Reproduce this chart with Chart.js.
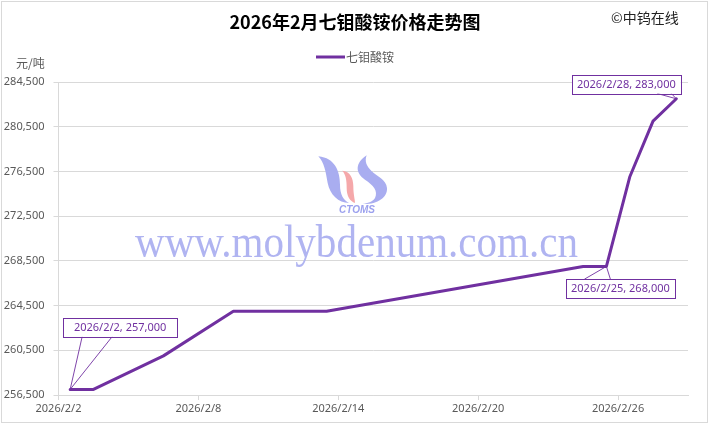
<!DOCTYPE html>
<html><head><meta charset="utf-8">
<script src="https://cdn.jsdelivr.net/npm/chart.js@4.4.1/dist/chart.umd.min.js"></script>
<style>html,body{margin:0;padding:0;background:#fff;}canvas{display:block;}</style>
</head><body>
<canvas id="c" width="710" height="425"></canvas>
<script>
// ---- data ----
const dates = ['2026/2/2','2026/2/3','2026/2/6','2026/2/9','2026/2/13','2026/2/24','2026/2/25','2026/2/26','2026/2/27','2026/2/28'];
const prices = [257000,257000,260000,264000,264000,268000,268000,276000,281000,283000];
const xTickLabels = ['2026/2/2','2026/2/8','2026/2/14','2026/2/20','2026/2/26'];
const yTickValues = [256500,260500,264500,268500,272500,276500,280500,284500];
const seriesName = '七钼酸铵';
const titleText = '2026年2月七钼酸铵价格走势图';
const sourceText = '©中钨在线';
const unitText = '元/吨';
const labelledDates = ['2026/2/2','2026/2/25','2026/2/28'];

const startDate = '2026/2/2';
const endDate = '2026/3/1';
function dayNum(s){const p=s.split('/').map(Number);return Date.UTC(p[0],p[1]-1,p[2])/86400000;}
const d0 = dayNum(startDate);
function slotCenter(s){return dayNum(s)-d0+0.5;}
function fmt(v){return v.toLocaleString('en-US');}

const PURPLE = '#7030A0';
const GRID = '#d9d9d9';
const TXT = '#595959';

const decor = {
  id:'decor',
  beforeDraw(chart){
    const ctx=chart.ctx;
    ctx.save();
    ctx.fillStyle='#fff';ctx.fillRect(0,0,710,425);
    ctx.strokeStyle='#d9d9d9';ctx.lineWidth=1;
    ctx.strokeRect(1.5,1.5,706,421);
    ctx.restore();
  },
  beforeDatasetsDraw(chart){
    const ctx=chart.ctx;
    ctx.save();
    // logo
    const T=(x,y)=>[x/3+305,y/3+148];
    function path(cmds,color){
      ctx.beginPath();
      cmds.forEach(c=>{
        if(c[0]==='M'){const p=T(c[1],c[2]);ctx.moveTo(p[0],p[1]);}
        else{const a=T(c[1],c[2]),b=T(c[3],c[4]),d=T(c[5],c[6]);ctx.bezierCurveTo(a[0],a[1],b[0],b[1],d[0],d[1]);}
      });
      ctx.closePath();ctx.fillStyle=color;ctx.fill();
    }
    path([['M',40,25],['C',90,30,105,70,105,110],['C',105,140,115,155,132,165],['C',100,165,75,140,68,105],['C',62,70,58,45,40,25]],'#a9adf0');
    path([['M',112,68],['C',135,70,145,90,145,115],['C',145,140,150,155,150,165],['C',135,160,125,145,125,120],['C',125,95,122,80,112,68]],'#f5a8aa');
    path([['M',185,22],['C',150,45,150,75,180,95],['C',205,112,220,128,210,150],['C',202,162,188,166,172,168],['C',215,170,248,150,246,120],['C',244,95,215,85,200,70],['C',185,55,178,40,185,22]],'#a9adf0');
    ctx.font='italic bold 10px "Liberation Sans"';
    ctx.fillStyle='#9ca1ee';ctx.textAlign='center';ctx.textBaseline='middle';
    ctx.fillText('CTOMS',357,210);
    // watermark text
    ctx.font='46px "Liberation Serif"';
    const wt='www.molybdenum.com.cn';
    const w=ctx.measureText(wt).width;
    ctx.translate(135,257);ctx.scale(443/w,1);
    ctx.textAlign='left';ctx.textBaseline='alphabetic';
    ctx.fillStyle='#b0b4f1';
    ctx.fillText(wt,0,0);
    ctx.restore();
  },
  afterDraw(chart){
    const ctx=chart.ctx;
    ctx.save();
    ctx.textBaseline='middle';
    // title
    ctx.font='bold 18px "Noto Sans CJK SC"';ctx.fillStyle='#000';ctx.textAlign='center';
    ctx.fillText(titleText,355,22);
    ctx.font='14px "Noto Sans CJK SC"';ctx.fillStyle='#222';ctx.textAlign='left';
    ctx.fillText(sourceText,611,18);
    // legend
    ctx.strokeStyle=PURPLE;ctx.lineWidth=3;
    ctx.beginPath();ctx.moveTo(316,57);ctx.lineTo(345,57);ctx.stroke();
    ctx.font='12px "Noto Sans CJK SC"';ctx.fillStyle=TXT;
    ctx.fillText(seriesName,346,57);
    // unit
    ctx.fillText(unitText,16,63);
    // data labels
    const xs=chart.scales.x, ys=chart.scales.y;
    const cfg={'2026/2/2':{dx:50,dy:-62,l1:-38,l2:-8,top:false,pad:11},
               '2026/2/25':{dx:14,dy:22,l1:-36,l2:-10,top:true,pad:5},
               '2026/2/28':{dx:-50,dy:-14.5,l1:31,l2:45,top:false,pad:5}};
    ctx.font='11px "Noto Sans"';
    labelledDates.forEach(d=>{
      const i=dates.indexOf(d);
      const px=xs.getPixelForValue(slotCenter(d)), py=ys.getPixelForValue(prices[i]);
      const c=cfg[d];
      const txt=d+', '+fmt(prices[i]);
      const tw=ctx.measureText(txt).width+2*c.pad, th=18.5;
      const cx=px+c.dx, cy=py+c.dy;
      const bx=cx-tw/2, by=cy-th/2;
      const ey=c.top?by:by+th;
      ctx.strokeStyle=PURPLE;ctx.lineWidth=0.9;
      ctx.beginPath();
      ctx.moveTo(cx+c.l1,ey);ctx.lineTo(px,py);ctx.lineTo(cx+c.l2,ey);
      ctx.stroke();
      ctx.fillStyle='#fff';ctx.fillRect(bx,by,tw,th);
      ctx.lineWidth=1;ctx.strokeRect(Math.round(bx)+0.5,Math.round(by)+0.5,Math.round(tw),Math.round(th));
      ctx.fillStyle=PURPLE;ctx.textAlign='center';
      ctx.fillText(txt,cx,cy+0.5);
      ctx.textAlign='left';
    });
    ctx.restore();
  }
};

new Chart(document.getElementById('c'),{
  type:'line',
  data:{datasets:[{
    label:seriesName,
    data:dates.map((d,i)=>({x:slotCenter(d),y:prices[i]})),
    borderColor:PURPLE,backgroundColor:PURPLE,borderWidth:3,
    pointRadius:0,tension:0,borderJoinStyle:'round',borderCapStyle:'round'
  }]},
  options:{
    responsive:false,animation:false,devicePixelRatio:1,
    layout:{padding:{left:0,right:22,top:82,bottom:0}},
    plugins:{legend:{display:false},title:{display:false},tooltip:{enabled:false}},
    scales:{
      x:{type:'linear',min:0,max:dayNum(endDate)-d0,
        afterBuildTicks(s){s.ticks=xTickLabels.map(l=>({value:dayNum(l)-d0}));},
        afterFit(s){s.height=30;},
        ticks:{autoSkip:false,maxRotation:0,color:TXT,font:{family:'Noto Sans',size:11},padding:2,
          callback(v){const l=xTickLabels.find(t=>dayNum(t)-d0===v);return l||'';}},
        grid:{drawOnChartArea:false,color:GRID,tickLength:5},
        border:{color:GRID}
      },
      y:{min:yTickValues[0],max:yTickValues[yTickValues.length-1],
        afterBuildTicks(s){s.ticks=yTickValues.map(v=>({value:v}));},
        afterFit(s){s.width=58.5;},
        ticks:{color:TXT,font:{family:'Noto Sans',size:11},padding:9,callback(v){return fmt(v);}},
        grid:{color:GRID,tickLength:5},
        border:{color:GRID}
      }
    }
  },
  plugins:[decor]
});
</script>
</body></html>
